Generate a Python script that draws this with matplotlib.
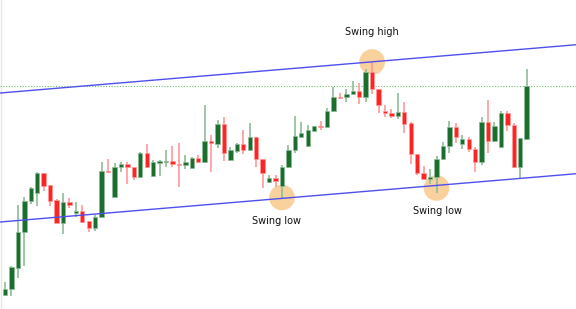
import numpy as np
import matplotlib.pyplot as plt

# candle OHLC values (price units)
opens  = [14, 20, 41, 77, 108, 116, 136, 124, 109, 86, 107, 96, 98, 88, 81, 92,
          138, 112, 142, 145, 142, 132, 156, 133, 146, 147, 148, 145, 144, 141,
          151, 147, 168, 165, 185, 149, 158, 165, 159, 172, 150, 127, 131, 123,
          142, 159, 172, 163, 178, 183, 182, 198, 212, 212, 215, 218, 212, 237,
          220, 198, 196, 193, 197, 186, 155, 136, 130, 132, 150, 163, 182, 165,
          170, 160, 147, 187, 168, 162, 196, 184, 142, 170]
highs  = [27, 43, 104, 112, 122, 137, 136, 124, 110, 116, 111, 107, 104, 88, 94, 147,
          150, 146, 147, 147, 142, 157, 165, 149, 149, 159, 163, 166, 154, 152,
          154, 204, 174, 189, 192, 162, 166, 179, 186, 172, 150, 134, 134, 144,
          164, 193, 187, 184, 183, 188, 201, 222, 216, 220, 228, 226, 240, 247,
          220, 204, 200, 216, 207, 187, 155, 143, 140, 153, 167, 188, 186, 174,
          172, 162, 192, 209, 187, 198, 198, 186, 171, 240]
lows   = [13, 13, 31, 43, 105, 103, 118, 103, 86, 75, 101, 92, 86, 77, 78, 92,
          136, 112, 137, 125, 129, 132, 142, 132, 133, 142, 142, 122, 140, 140,
          146, 146, 137, 161, 148, 149, 156, 155, 159, 142, 121, 126, 122, 111,
          141, 156, 172, 162, 178, 179, 182, 197, 210, 207, 215, 205, 207, 215,
          196, 192, 191, 190, 176, 145, 134, 129, 125, 116, 149, 156, 166, 160,
          157, 137, 144, 156, 167, 161, 178, 141, 131, 169]
closes = [20, 42, 77, 108, 121, 136, 123, 108, 86, 107, 104, 98, 87, 81, 92, 138,
          137, 142, 145, 142, 132, 156, 142, 147, 148, 148, 145, 144, 147, 151,
          147, 168, 166, 185, 156, 159, 165, 159, 172, 150, 136, 131, 128, 142,
          159, 173, 176, 179, 183, 182, 198, 212, 211, 215, 218, 212, 237, 220,
          204, 196, 193, 197, 185, 155, 136, 130, 132, 150, 163, 182, 172, 170,
          160, 147, 187, 168, 183, 196, 184, 142, 171, 223]

# channel lines (two points each), last price, swing points
upper_pts = [(0, 216.4), (88, 263.9)]
lower_pts = [(0, 87.4), (88, 134.9)]
last_price = 223
swing_x = [57, 43, 67]
swing_y = [247, 111.5, 121]
swing_labels = ['Swing high', 'Swing low', 'Swing low']
label_x = [57, 42.1, 67.2]
label_y = [277, 88.5, 98.5]

green = '#1c6e2e'
red = '#ff2424'

fig = plt.figure(figsize=(5.76, 3.09), dpi=100)
ax = fig.add_axes([0, 0, 1, 1])
ax.set_xlim(-0.78, 88.66)
ax.set_ylim(0, 309)
ax.axis('off')

# faint left border
ax.axvline(-0.62, color='#e6e6e6', lw=1, zorder=0)

idx = np.arange(len(opens))
for i in idx:
    o, h, l, c = opens[i], highs[i], lows[i], closes[i]
    up = c >= o
    col = green if up else red
    wick = '#8dbd97' if up else '#ff9a9a'
    ax.vlines(i, l, h, color=wick, lw=1.2, zorder=3)
    lo, hi = min(o, c), max(o, c)
    ax.bar(i, max(hi - lo, 1.0), 0.68, bottom=lo, color=col,
           edgecolor=wick, lw=0.5, zorder=4)

# swing circles
ax.scatter(swing_x, swing_y, s=340, color='#f9c98c', alpha=0.85,
           edgecolors='none', zorder=2)

ax.axline(upper_pts[0], upper_pts[1], color='#4f4ff0', lw=1, zorder=5)
ax.axline(lower_pts[0], lower_pts[1], color='#4f4ff0', lw=1, zorder=5)
ax.axhline(last_price, color='#6cbf6c', lw=0.8, ls=(0, (1, 1.5)), zorder=1)

for t, x, y in zip(swing_labels, label_x, label_y):
    ax.text(x, y, t, ha='center', va='center', fontsize=7, color='#111111')

fig.savefig('out.png', dpi=100)
